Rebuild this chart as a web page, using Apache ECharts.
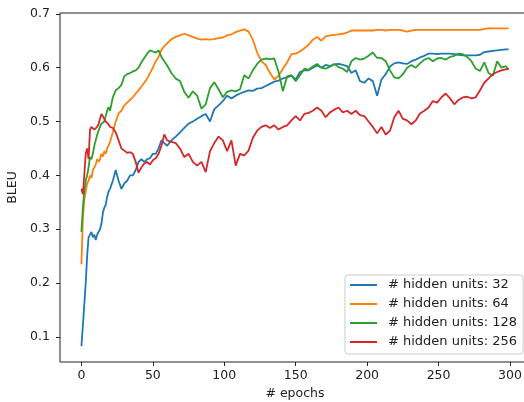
<!DOCTYPE html>
<html>
<head>
<meta charset="utf-8">
<title>BLEU / epochs</title>
<script src="https://cdn.jsdelivr.net/npm/echarts@6/dist/echarts.min.js"></script>
<style>
    html, body { margin: 0; padding: 0; background: #fff; }
    #chart { width: 524px; height: 402px; }
</style>
</head>
<body>
<div id="chart"></div>
<script>
// epochs where the curves were read (dense at the start where they climb fast)
let epochs = [
    0, 1, 2, 3, 4, 5, 6, 7, 8, 9, 10,
    11, 12, 13, 14, 15, 16, 17, 18, 19, 20,
    22, 24, 26, 28, 30, 32, 34, 36, 38, 40,
    42, 44, 46, 48, 50, 52, 54, 56, 58, 60,
    63, 66, 69, 72, 75, 78, 81, 84, 87, 90,
    93, 96, 99, 102, 105, 108, 111, 114, 117, 120,
    123, 126, 129, 132, 135, 138, 141, 144, 147, 150,
    153, 156, 159, 162, 165, 168, 171, 174, 177, 180,
    183, 186, 189, 192, 195, 198, 201, 204, 207, 210,
    213, 216, 219, 222, 225, 228, 231, 234, 237, 240,
    243, 246, 249, 252, 255, 258, 261, 264, 267, 270,
    273, 276, 279, 282, 285, 288, 291, 294, 297, 299
];

// BLEU, # hidden units: 32
let units32 = [
    0.083, 0.12, 0.16, 0.20, 0.25, 0.285, 0.29, 0.295, 0.285, 0.29, 0.28,
    0.29, 0.29, 0.30, 0.31, 0.33, 0.34, 0.345, 0.36, 0.37, 0.375,
    0.39, 0.41, 0.39, 0.375, 0.385, 0.39, 0.40, 0.40, 0.41, 0.425,
    0.43, 0.425, 0.43, 0.432, 0.44, 0.44, 0.45, 0.465, 0.46, 0.455,
    0.465, 0.472, 0.48, 0.488, 0.496, 0.50, 0.505, 0.51, 0.514, 0.50,
    0.523, 0.53, 0.538, 0.548, 0.543, 0.548, 0.552, 0.555, 0.558, 0.557,
    0.561, 0.562, 0.566, 0.57, 0.574, 0.576, 0.58, 0.582, 0.585, 0.578,
    0.592, 0.595, 0.595, 0.60, 0.604, 0.60, 0.605, 0.603, 0.606, 0.607,
    0.605, 0.603, 0.59, 0.595, 0.575, 0.572, 0.58, 0.575, 0.548, 0.578,
    0.588, 0.602, 0.608, 0.61, 0.608, 0.607, 0.612, 0.615, 0.619, 0.622,
    0.626, 0.626, 0.625, 0.626, 0.626, 0.626, 0.625, 0.624, 0.623, 0.623,
    0.623, 0.623, 0.624, 0.629, 0.63, 0.631, 0.632, 0.633, 0.634, 0.634
];

// BLEU, # hidden units: 64
let units64 = [
    0.235, 0.32, 0.355, 0.37, 0.385, 0.39, 0.40, 0.395, 0.41, 0.415, 0.42,
    0.43, 0.425, 0.43, 0.44, 0.435, 0.445, 0.44, 0.45, 0.455, 0.462,
    0.48, 0.50, 0.515, 0.52, 0.53, 0.535, 0.54, 0.545, 0.552, 0.558,
    0.565, 0.572, 0.58, 0.59, 0.60, 0.612, 0.62, 0.633, 0.64, 0.645,
    0.653, 0.657, 0.66, 0.663, 0.66, 0.657, 0.654, 0.652, 0.653, 0.652,
    0.653, 0.655, 0.656, 0.66, 0.662, 0.666, 0.669, 0.671, 0.667, 0.652,
    0.628, 0.612, 0.605, 0.59, 0.578, 0.585, 0.598, 0.61, 0.625, 0.626,
    0.63, 0.636, 0.642, 0.652, 0.657, 0.65, 0.658, 0.66, 0.661, 0.662,
    0.663, 0.665, 0.669, 0.669, 0.669, 0.669, 0.669, 0.669, 0.67, 0.67,
    0.669, 0.67, 0.67, 0.67, 0.669, 0.667, 0.669, 0.67, 0.67, 0.67,
    0.67, 0.67, 0.67, 0.67, 0.67, 0.67, 0.67, 0.67, 0.67, 0.67,
    0.67, 0.67, 0.67, 0.672, 0.673, 0.673, 0.673, 0.673, 0.673, 0.673
];

// BLEU, # hidden units: 128
let units128 = [
    0.295, 0.34, 0.37, 0.39, 0.40, 0.415, 0.434, 0.43, 0.44, 0.455, 0.465,
    0.475, 0.483, 0.49, 0.496, 0.498, 0.50, 0.51, 0.52, 0.527, 0.52,
    0.545, 0.558, 0.562, 0.568, 0.584, 0.588, 0.59, 0.593, 0.595, 0.60,
    0.61, 0.618, 0.626, 0.632, 0.63, 0.628, 0.632, 0.62, 0.612, 0.604,
    0.59, 0.58, 0.575, 0.555, 0.544, 0.556, 0.548, 0.524, 0.532, 0.562,
    0.573, 0.56, 0.545, 0.555, 0.558, 0.556, 0.56, 0.586, 0.58, 0.595,
    0.607, 0.615, 0.617, 0.616, 0.617, 0.592, 0.556, 0.584, 0.586, 0.575,
    0.586, 0.598, 0.596, 0.602, 0.607, 0.60, 0.598, 0.602, 0.607, 0.601,
    0.598, 0.592, 0.612, 0.618, 0.615, 0.617, 0.622, 0.628, 0.618, 0.618,
    0.612, 0.595, 0.582, 0.58, 0.588, 0.60, 0.605, 0.60, 0.608, 0.615,
    0.618, 0.612, 0.617, 0.618, 0.615, 0.62, 0.622, 0.626, 0.625, 0.62,
    0.612, 0.598, 0.594, 0.61, 0.59, 0.585, 0.612, 0.60, 0.603, 0.596
];

// BLEU, # hidden units: 256
let units256 = [
    0.375, 0.365, 0.40, 0.44, 0.45, 0.43, 0.485, 0.49, 0.49, 0.485, 0.488,
    0.49, 0.495, 0.505, 0.514, 0.51, 0.505, 0.50, 0.498, 0.495, 0.49,
    0.488, 0.48, 0.465, 0.45, 0.446, 0.442, 0.443, 0.44, 0.425, 0.405,
    0.415, 0.422, 0.425, 0.42, 0.428, 0.432, 0.44, 0.455, 0.476, 0.465,
    0.462, 0.46, 0.45, 0.434, 0.44, 0.425, 0.418, 0.425, 0.406, 0.445,
    0.46, 0.472, 0.465, 0.445, 0.465, 0.418, 0.44, 0.437, 0.446, 0.47,
    0.483, 0.49, 0.493, 0.488, 0.493, 0.485, 0.49, 0.493, 0.502, 0.51,
    0.502, 0.514, 0.516, 0.52, 0.526, 0.52, 0.508, 0.517, 0.522, 0.526,
    0.517, 0.52, 0.514, 0.52, 0.512, 0.51, 0.50, 0.49, 0.478, 0.49,
    0.476, 0.483, 0.508, 0.52, 0.505, 0.502, 0.495, 0.502, 0.515, 0.52,
    0.526, 0.538, 0.535, 0.545, 0.552, 0.543, 0.532, 0.54, 0.545, 0.546,
    0.543, 0.545, 0.558, 0.572, 0.58, 0.588, 0.592, 0.595, 0.597, 0.598
];

let seriesNames = ['# hidden units: 32', '# hidden units: 64', '# hidden units: 128', '# hidden units: 256'];
let seriesValues = [units32, units64, units128, units256];

// tick labels
let xTicks = [0, 50, 100, 150, 200, 250, 300];
let yTicks = [0.1, 0.2, 0.3, 0.4, 0.5, 0.6, 0.7];

let colors = ['#1f77b4', '#ff7f0e', '#2ca02c', '#d62728'];
let fontFamily = 'DejaVu Sans';
let ink = '#222';

let chart = echarts.init(document.getElementById('chart'));

let option = {
    animation: false,
    backgroundColor: '#fff',
    color: colors,
    textStyle: { fontFamily: fontFamily },
    grid: {
        left: 60,
        top: 13,
        right: -6, // plot frame runs slightly past the right edge
        bottom: 40,
        show: true,
        borderColor: ink,
        borderWidth: 1,
        containLabel: false,
        outerBoundsMode: 'none'
    },
    xAxis: {
        type: 'value',
        min: -15,
        max: 314,
        name: '# epochs',
        nameLocation: 'middle',
        nameGap: 25,
        nameTextStyle: { color: ink, fontSize: 12.5, fontFamily: fontFamily },
        axisLine: { show: false, onZero: false },
        axisTick: { show: true, length: 4, lineStyle: { color: ink }, customValues: xTicks },
        axisLabel: { color: ink, fontSize: 12.5, margin: 7, customValues: xTicks },
        splitLine: { show: false }
    },
    yAxis: {
        type: 'value',
        min: 0.0535,
        max: 0.7015,
        name: 'BLEU',
        nameLocation: 'middle',
        nameGap: 31,
        nameRotate: 90,
        nameTextStyle: { color: ink, fontSize: 12.5, fontFamily: fontFamily },
        axisLine: { show: false, onZero: false },
        axisTick: { show: true, length: 4, lineStyle: { color: ink }, customValues: yTicks },
        axisLabel: {
            color: ink,
            fontSize: 12.5,
            margin: 10,
            customValues: yTicks,
            formatter: function (v) { return v.toFixed(1); }
        },
        splitLine: { show: false }
    },
    legend: {
        orient: 'vertical',
        right: 1,
        top: 275,
        padding: [3, 6, 5, 5],
        icon: 'rect', // plain line swatch, no marker
        itemWidth: 27,
        itemHeight: 2,
        itemGap: 5,
        backgroundColor: 'rgba(255,255,255,0.8)',
        borderColor: '#ccc',
        borderWidth: 1,
        borderRadius: 3,
        textStyle: { color: ink, fontSize: 13, lineHeight: 14, fontFamily: fontFamily, padding: [0, 0, 0, 6] },
        data: seriesNames
    },
    series: seriesNames.map(function (name, i) {
        return {
            name: name,
            type: 'line',
            symbol: 'none',
            lineStyle: { width: 1.8, color: colors[i] },
            itemStyle: { color: colors[i] },
            data: epochs.map(function (e, k) { return [e, seriesValues[i][k]]; })
        };
    })
};

chart.setOption(option);
</script>
</body>
</html>
